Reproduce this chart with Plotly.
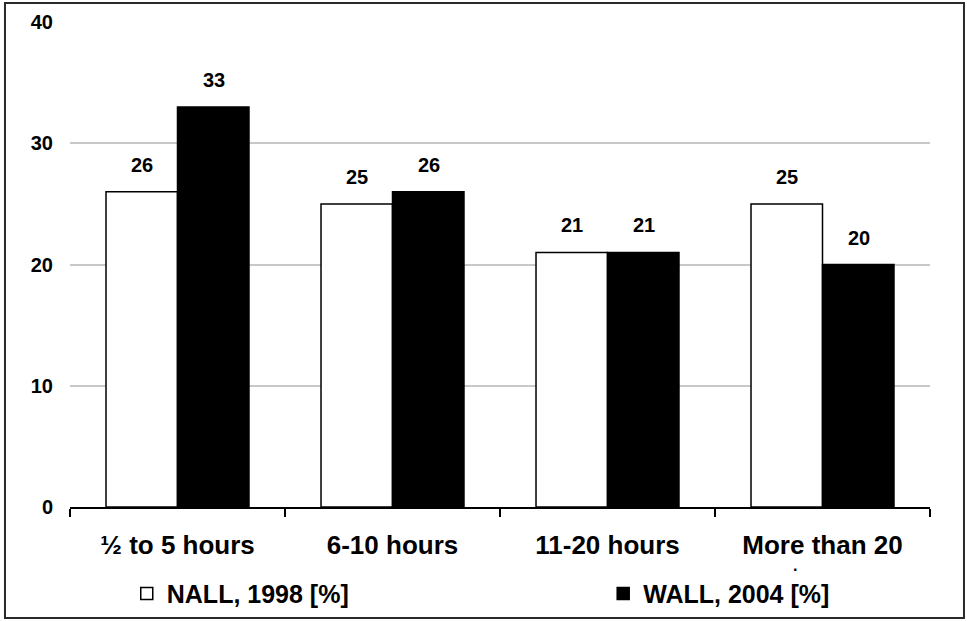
import plotly.graph_objects as go

categories = ["½ to 5 hours", "6-10 hours", "11-20 hours", "More than 20"]
nall_1998 = [26, 25, 21, 25]
wall_2004 = [33, 26, 21, 20]
series_names = ["NALL, 1998 [%]", "WALL, 2004 [%]"]
y_ticks = [0, 10, 20, 30, 40]

FONT = "Liberation Sans, Arial, sans-serif"

fig = go.Figure()
fig.add_trace(go.Bar(
    x=categories, y=nall_1998, name=series_names[0], legend="legend",
    marker=dict(color="white", line=dict(color="black", width=1.5)),
))
fig.add_trace(go.Bar(
    x=categories, y=wall_2004, name=series_names[1], legend="legend2",
    marker=dict(color="black", line=dict(color="black", width=1.5)),
))

annotations = []
for vals, shift in [(nall_1998, -36), (wall_2004, 36)]:
    for c, v in zip(categories, vals):
        annotations.append(dict(
            x=c, y=v, xref="x", yref="y", text=f"<b>{v}</b>", showarrow=False,
            xshift=shift, yshift=27, font=dict(family=FONT, size=20, color="black"),
        ))
# small stray dot below last tick label (as in original)
annotations.append(dict(
    x=categories[3], y=0, xref="x", yref="y", text="<b>·</b>", showarrow=False,
    xshift=-27, yshift=-62, font=dict(family=FONT, size=16, color="black"),
))

legend_font = dict(family=FONT, size=25, color="black", weight="bold")
fig.update_layout(
    width=967, height=621,
    margin=dict(l=70, r=37, t=22, b=114, autoexpand=False),
    paper_bgcolor="white", plot_bgcolor="white",
    barmode="group", bargap=0.335, bargroupgap=0,
    font=dict(family=FONT, color="black"),
    showlegend=True,
    legend=dict(
        orientation="h", x=0.066, xanchor="left", y=-0.179, yanchor="middle",
        font=legend_font, itemwidth=30, bgcolor="rgba(0,0,0,0)",
    ),
    legend2=dict(
        orientation="h", x=0.62, xanchor="left", y=-0.179, yanchor="middle",
        font=legend_font, itemwidth=30, bgcolor="rgba(0,0,0,0)",
    ),
    annotations=annotations,
    shapes=[dict(
        type="rect", xref="paper", yref="paper",
        x0=-0.0756, x1=1.0395, y0=-0.229, y1=1.039,
        line=dict(color="#2a2a2a", width=2), fillcolor="rgba(0,0,0,0)",
        layer="below",
    )],
)

fig.update_xaxes(
    showline=True, linecolor="black", linewidth=1.5, automargin=False,
    tickson="boundaries", ticks="outside", ticklen=8, tickcolor="black", tickwidth=1.5,
    ticklabelstandoff=14,
    tickfont=dict(family=FONT, size=26, color="black", weight="bold"),
    showgrid=False,
)
fig.update_yaxes(
    range=[0, 40], tickvals=y_ticks, automargin=False,
    showgrid=True, gridcolor="#c8c8c8", gridwidth=2,
    zeroline=False, showline=False, ticks="",
    ticklabelstandoff=16,
    tickfont=dict(family=FONT, size=20, color="black", weight="bold"),
)

fig.write_html(
    "out.html",
    config={"displayModeBar": False},
    post_script="document.body.style.margin='0';",
)
